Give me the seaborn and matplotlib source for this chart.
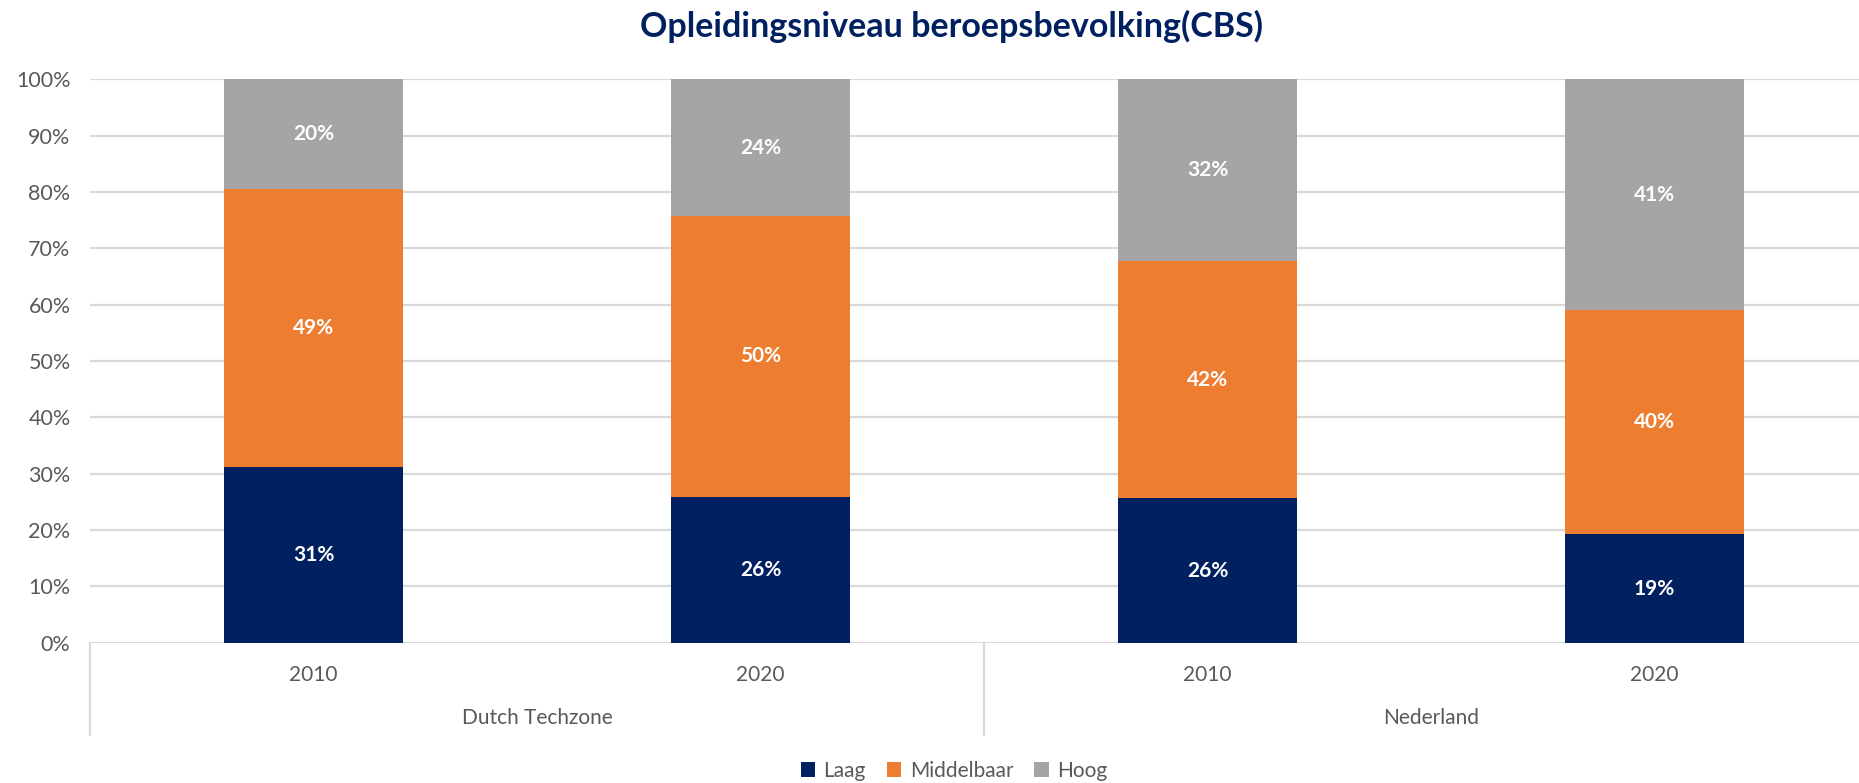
import matplotlib
matplotlib.use("Agg")
import matplotlib.pyplot as plt
from matplotlib.patches import Patch
import seaborn as sns
import pandas as pd
import numpy as np

# ---- data ----
regions = ["Dutch Techzone", "Dutch Techzone", "Nederland", "Nederland"]
years = ["2010", "2020", "2010", "2020"]
laag = [31.2, 25.8, 25.6, 19.2]
middelbaar = [49.3, 50.0, 42.2, 39.8]
hoog = [19.5, 24.2, 32.2, 41.0]
series_names = ["Laag", "Middelbaar", "Hoog"]
colors = ["#002060", "#ED7D31", "#A5A5A5"]
title = "Opleidingsniveau beroepsbevolking(CBS)"
group_names = ["Dutch Techzone", "Nederland"]

sns.set_theme(style="white")
plt.rcParams["font.family"] = ["Lato", "DejaVu Sans"]

keys = [f"{r}|{y}" for r, y in zip(regions, years)]
df = pd.DataFrame({"key": keys, "Laag": laag, "Middelbaar": middelbaar, "Hoog": hoog})
df["c1"] = df["Laag"]
df["c2"] = df["Laag"] + df["Middelbaar"]
df["c3"] = df["c2"] + df["Hoog"]

W, H = 1859, 783
fig = plt.figure(figsize=(W / 100, H / 100), dpi=100)
ax = fig.add_axes([90 / W, (H - 642.6) / H, (1878 - 90) / W, (642.6 - 79.4) / H])

for col, c in zip(["c3", "c2", "c1"], colors[::-1]):
    sns.barplot(data=df, x="key", y=col, color=c, width=0.4, ax=ax,
                saturation=1, linewidth=0, order=keys)

ax.set_xlim(-0.5, 3.5)
ax.set_ylim(0, 100)
ax.set_yticks(np.arange(0, 101, 10))
ax.set_yticklabels([f"{v}%" for v in range(0, 101, 10)], fontsize=15.5, color="#595959")
ax.tick_params(axis="y", length=0, pad=14)
ax.set_xticks([])
ax.set_xlabel("")
ax.set_ylabel("")
ax.yaxis.grid(True, color="#D9D9D9", linewidth=1.6)
ax.set_axisbelow(True)
for s in ax.spines.values():
    s.set_visible(False)

# data labels
for i in range(len(keys)):
    vals = [laag[i], middelbaar[i], hoog[i]]
    bottom = 0
    for v in vals:
        ax.text(i, bottom + v / 2, f"{round(v)}%", ha="center", va="center",
                color="white", fontsize=15, fontweight="bold")
        bottom += v

# category axis (two levels)
tr = ax.get_xaxis_transform()
for i, y in enumerate(years):
    ax.text(i, -0.0575, y, transform=tr, ha="center", va="center",
            fontsize=15, color="#595959")
for g, name in enumerate(group_names):
    ax.text(0.5 + 2 * g, -0.134, name, transform=tr, ha="center", va="center",
            fontsize=15, color="#595959")
for xs in [-0.5, 1.5, 3.5]:
    ax.plot([xs, xs], [0, -0.164], transform=tr, color="#D9D9D9",
            linewidth=1.6, clip_on=False)

# title
fig.text(952 / W, 1 - 26 / H, title, ha="center", va="center",
         fontsize=24.5, fontweight="bold", color="#002060")

handles = [Patch(facecolor=c, edgecolor="none", label=n) for n, c in zip(series_names, colors)]
fig.legend(handles=handles, loc="center", bbox_to_anchor=(954 / W, (H - 771) / H),
           ncol=3, frameon=False, fontsize=15, handlelength=0.7, handleheight=0.7,
           handletextpad=0.4, columnspacing=1.0, labelcolor="#595959")

fig.savefig("out.png", dpi=100)
